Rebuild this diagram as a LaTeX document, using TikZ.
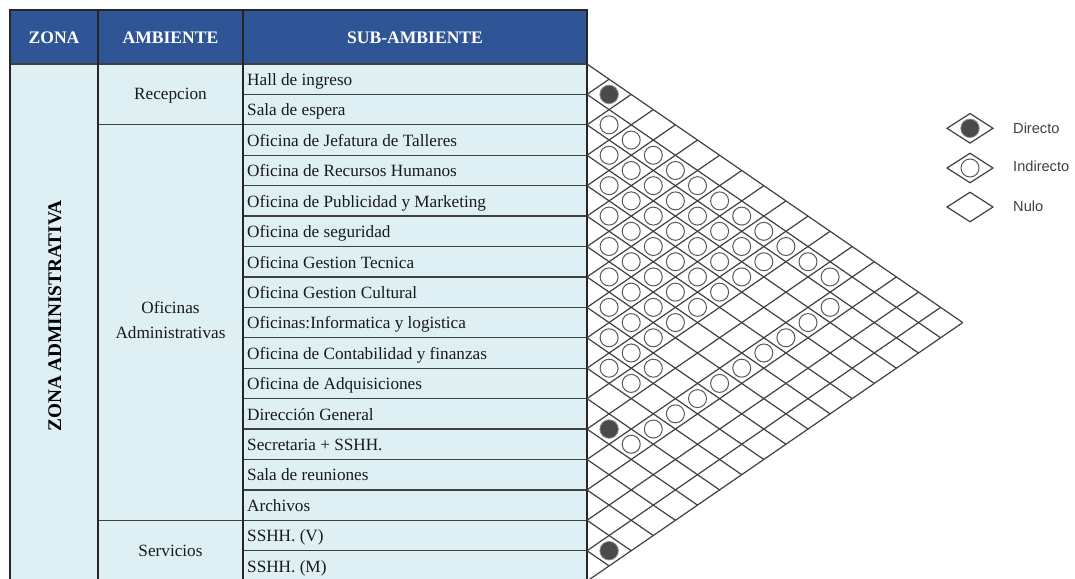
\documentclass[tikz,border=0pt]{standalone}
\usepackage{fontspec}
\setmainfont{Liberation Serif}
\newfontfamily\legfont{Liberation Sans}
\usetikzlibrary{shapes.geometric}
\definecolor{hdrblue}{HTML}{2F5597}
\definecolor{cellblue}{HTML}{DFF0F5}
\definecolor{gridgray}{HTML}{404040}
\definecolor{darkdot}{HTML}{4A4A4A}
\newcommand\relmark[3]{\node[#3] (r#1-#2) at ({587+(#2-#1)*22.1},{64+(#1+#2+1)*15.21}) {};}
\begin{document}
\begin{tikzpicture}[x=1pt,y=-1pt,
  hdr/.style={text=white,font=\fontsize{17.6}{20}\selectfont\bfseries,inner sep=0pt},
  body/.style={font=\fontsize{17.2}{20}\selectfont,text=black!90,inner sep=0pt},
  subtxt/.style={body,anchor=base west},
  tline/.style={draw=black!85,line width=1.4pt},
  rline/.style={draw=black!75,line width=1.3pt},
  gridline/.style={draw=gridgray,line width=1.2pt},
  indc/.style={circle,draw=black!65,line width=1pt,fill=white,minimum size=18pt,inner sep=0pt},
  dirc/.style={circle,draw=black!45,line width=0.8pt,fill=darkdot,minimum size=18.5pt,inner sep=0pt},
  legd/.style={diamond,draw=gridgray,line width=1.2pt,minimum width=46.5pt,minimum height=30pt,inner sep=0pt},
  legt/.style={anchor=west,font=\legfont\fontsize{14.6}{16}\selectfont,text=black!75,inner sep=0pt}]
\useasboundingbox (0,0) rectangle (1075,578);
% table backgrounds
\fill[hdrblue] (10,10) rectangle (587,64);
\fill[cellblue] (10,64) rectangle (587,582);
% row lines in sub-ambiente column
\foreach \k in {1,...,16} {
  \draw[rline] (243,{64+\k*30.42}) -- (587,{64+\k*30.42});
}
% group lines in ambiente column
\draw[rline] (98,{64+2*30.42}) -- (243,{64+2*30.42});
\draw[rline] (98,{64+15*30.42}) -- (243,{64+15*30.42});
\draw[rline] (10,64) -- (587,64);
% verticals and frame
\draw[tline] (10,10) rectangle (587,582);
\draw[tline] (98,10) -- (98,582);
\draw[tline] (243,10) -- (243,582);
% header texts
\node[hdr] (hz) at (54,37.5) {ZONA};
\node[hdr] (ha) at (170.5,37.5) {AMBIENTE};
\node[hdr] (hs) at (415,37.5) {SUB-AMBIENTE};
% zona
\node[rotate=90,font=\fontsize{19.3}{20}\selectfont\bfseries,inner sep=0pt] (zona) at (55,316) {ZONA ADMINISTRATIVA};
% ambientes
\node[body,anchor=base] (a1) at (170.5,99.5) {Recepcion};
\node[body,anchor=base,align=center,font=\fontsize{17.2}{25}\selectfont] (a2) at (170.5,338.5) {Oficinas\\Administrativas};
\node[body,anchor=base] (a3) at (170.5,556) {Servicios};
% sub-ambientes
\foreach \k/\t in {0/{Hall de ingreso},1/{Sala de espera},2/{Oficina de Jefatura de Talleres},
  3/{Oficina de Recursos Humanos},4/{Oficina de Publicidad y Marketing},5/{Oficina de seguridad},
  6/{Oficina Gestion Tecnica},7/{Oficina Gestion Cultural},8/{Oficinas:Informatica y logistica},
  9/{Oficina de Contabilidad y finanzas},10/{Oficina de Adquisiciones},11/{Dirección General},
  12/{Secretaria + SSHH.},13/{Sala de reuniones},14/{Archivos},15/{SSHH. (V)},16/{SSHH. (M)}} {
  \node[subtxt] (s\k) at (247,{64+\k*30.42+21.5}) {\t};
}
% matrix grid
\foreach \k in {0,...,17} {
  \pgfmathsetmacro\yk{64+\k*30.42}
  \ifnum\k<17 \draw[gridline] (587,\yk) -- ++({(17-\k)*22.1},{(17-\k)*15.21}); \fi
  \ifnum\k>0 \draw[gridline] (587,\yk) -- ++({\k*22.1},{-\k*15.21}); \fi
}
% relations: direct
\relmark{0}{1}{dirc}
\relmark{11}{12}{dirc}
\relmark{15}{16}{dirc}
% relations: indirect
\foreach \j in {2,...,12} {\relmark{1}{\j}{indc}}
\foreach \i in {2,...,9} {
  \pgfmathtruncatemacro\js{\i+1}
  \foreach \j in {\js,...,10} {\relmark{\i}{\j}{indc}}
}
\relmark{8}{11}{indc}
\relmark{9}{11}{indc}
\foreach \i in {2,...,11} {\relmark{\i}{13}{indc}}
% legend
\node[legd] (ld1) at (970,128.3) {};
\node[dirc] (lc1) at (ld1) {};
\node[legd] (ld2) at (970,168) {};
\node[indc] (lc2) at (ld2) {};
\node[legd] (ld3) at (970,207) {};
\node[legt] (lt1) at (1013,128.3) {Directo};
\node[legt] (lt2) at (1013,166.5) {Indirecto};
\node[legt] (lt3) at (1013,206.5) {Nulo};
\end{tikzpicture}
\end{document}
